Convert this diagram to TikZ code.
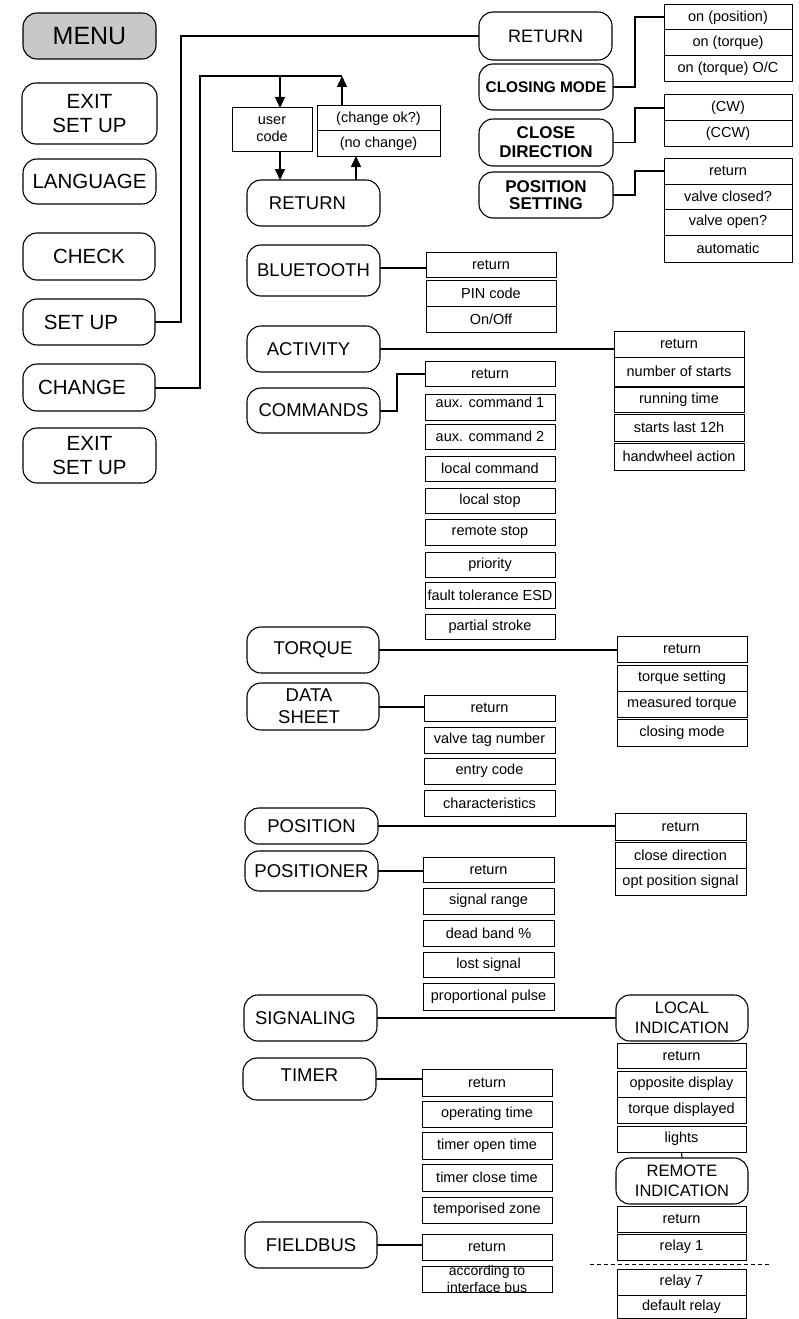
\documentclass[tikz,border=0pt]{standalone}
\usepackage{fontspec}
\setmainfont{Liberation Sans}
\usetikzlibrary{arrows.meta}
\definecolor{menugray}{RGB}{200,200,200}
\newcommand\bx[7]{%
  \pgfmathsetmacro\bxw{#4-#2}\pgfmathsetmacro\bxh{#5-#3}%
  \pgfmathsetmacro\bxcx{(#2+#4)/2}\pgfmathsetmacro\bxcy{(#3+#5)/2}%
  \node[#6,minimum width=\bxw pt,minimum height=\bxh pt] (#1) at (\bxcx,\bxcy) {#7};}
\tikzset{
  rbox/.style={draw, rounded corners=14pt, line width=1.1pt, inner sep=0pt, outer sep=0pt, align=center},
  sbox/.style={draw, line width=1pt, inner sep=0pt, outer sep=0pt, align=center, font=\fontsize{14.5}{17}\selectfont},
  lfont/.style={font=\fontsize{20.5}{23.3}\selectfont},
  mfont/.style={font=\fontsize{18.5}{21.7}\selectfont},
  conn/.style={line width=2pt},
  thinconn/.style={line width=1.1pt},
  arrw/.style={line width=1.5pt, -{Triangle[length=11pt,width=10pt]}},
}
\begin{document}
\begin{tikzpicture}[x=1pt,y=-1pt]
\fill[white] (0,0) rectangle (798,1319);
\useasboundingbox (0,0) rectangle (798,1319);
% left column
\bx{menu}{23}{13}{156}{59}{rbox,fill=menugray,font=\fontsize{25}{28}\selectfont}{MENU}
\bx{exit1}{22}{83}{157}{144}{rbox,lfont}{EXIT\\SET UP}
\bx{lang}{23}{159}{156}{204}{rbox,lfont}{LANGUAGE}
\bx{check}{23}{233}{155}{280}{rbox,lfont}{CHECK}
\bx{setup}{23}{299}{155}{345}{rbox}{}
\node[lfont] (setupt) at ([xshift=-8pt]setup.center) {SET UP};
\bx{change}{23}{364}{155}{411}{rbox}{}
\node[lfont] (changet) at ([xshift=-7pt]change.center) {CHANGE};
\bx{exit2}{23}{428}{156}{483}{rbox,lfont}{EXIT\\SET UP}
% top right
\bx{ret1}{479}{12}{612}{60}{rbox,font=\fontsize{18}{21}\selectfont}{RETURN}
\bx{closing}{479}{64}{613}{110}{rbox,font=\fontsize{15.4}{18}\bfseries}{CLOSING MODE}
\bx{closedir}{479}{119}{613}{166}{rbox,font=\fontsize{17}{19}\bfseries}{CLOSE\\DIRECTION}
\bx{posset}{479}{172}{613}{218}{rbox,font=\fontsize{17}{17.5}\bfseries}{POSITION\\SETTING}
\bx{onpos}{664}{5}{792}{30}{sbox}{on (position)}
\bx{ontq}{664}{30}{792}{56}{sbox}{on (torque)}
\bx{ontqoc}{664}{56}{792}{82}{sbox}{on (torque) O/C}
\bx{cw}{664}{95}{792}{121}{sbox}{(CW)}
\bx{ccw}{664}{121}{792}{146}{sbox}{(CCW)}
\bx{psret}{664}{158}{792}{184}{sbox}{return}
\bx{vclosed}{664}{184}{792}{209}{sbox}{valve closed?}
\bx{vopen}{664}{209}{792}{235}{sbox}{valve open?}
\bx{autom}{664}{235}{792}{262}{sbox}{automatic}
% user code area
\bx{usercode}{232}{108}{312}{151}{sbox}{user\\code}
\bx{changeok}{317}{106}{440}{131}{sbox}{(change ok?)}
\bx{nochange}{317}{131}{440}{156}{sbox}{(no change)}
\bx{ret2}{247}{180}{380}{226}{rbox}{}
\node[mfont] (ret2t) at ([xshift=-6pt]ret2.center) {RETURN};
% bluetooth
\bx{bt}{247}{245}{380}{296}{rbox,mfont}{BLUETOOTH}
\bx{btret}{426}{252}{556}{277}{sbox}{return}
\bx{pin}{426}{280}{556}{306}{sbox}{PIN code}
\bx{onoff}{426}{306}{556}{332}{sbox}{On/Off}
% activity
\bx{act}{247}{326}{380}{372}{rbox}{}
\node[mfont] (actt) at ([xshift=-5pt]act.center) {ACTIVITY};
\bx{actret}{614}{331}{744}{357}{sbox}{return}
\bx{nstarts}{614}{357}{744}{386}{sbox}{number of starts}
\bx{runtime}{614}{387}{744}{412}{sbox}{running time}
\bx{starts12}{614}{414}{744}{441}{sbox}{starts last 12h}
\bx{hw}{614}{443}{744}{470}{sbox}{handwheel action}
% commands
\bx{cmd}{247}{388}{380}{433}{rbox,mfont}{COMMANDS}
\bx{cmdret}{425}{361}{555}{386}{sbox}{return}
\bx{aux1}{425}{394}{555}{420}{sbox}{}
\node[font=\fontsize{14.5}{17}\selectfont] (aux1t) at ([yshift=5pt]aux1.center) {aux. command 1};
\bx{aux2}{425}{424}{555}{449}{sbox}{aux. command 2}
\bx{localcmd}{425}{456}{555}{481}{sbox}{local command}
\bx{localstop}{425}{488}{555}{513}{sbox}{local stop}
\bx{remstop}{425}{519}{555}{545}{sbox}{remote stop}
\bx{prio}{425}{552}{555}{577}{sbox}{priority}
\bx{fault}{425}{582}{555}{608}{sbox}{fault tolerance ESD}
\bx{partial}{425}{614}{555}{639}{sbox}{partial stroke}
% torque
\bx{tq}{247}{627}{379}{673}{rbox,mfont}{TORQUE}
\bx{tqret}{617}{636}{747}{662}{sbox}{return}
\bx{tqset}{617}{665}{747}{691}{sbox}{torque setting}
\bx{meastq}{617}{691}{747}{717}{sbox}{measured torque}
\bx{closmode}{617}{719}{747}{746}{sbox}{closing mode}
% data sheet
\bx{ds}{247}{683}{379}{730}{rbox}{}
\node[mfont,align=center] (dst) at ([xshift=-4pt]ds.center) {DATA\\SHEET};
\bx{dsret}{424}{695}{555}{721}{sbox}{return}
\bx{vtag}{424}{727}{555}{753}{sbox}{valve tag number}
\bx{entry}{424}{758}{555}{784}{sbox}{entry code}
\bx{charac}{424}{790}{555}{816}{sbox}{characteristics}
% position
\bx{pos}{245}{808}{378}{844}{rbox,mfont}{POSITION}
\bx{posret}{615}{813}{746}{840}{sbox}{return}
\bx{cdir}{615}{842}{746}{868}{sbox}{close direction}
\bx{optpos}{615}{868}{746}{895}{sbox}{opt position signal}
% positioner
\bx{pner}{245}{851}{378}{891}{rbox,mfont}{POSITIONER}
\bx{pnret}{423}{857}{554}{882}{sbox}{return}
\bx{sigrange}{423}{888}{554}{914}{sbox}{signal range}
\bx{deadband}{423}{920}{554}{946}{sbox}{dead band \%}
\bx{lostsig}{423}{952}{554}{977}{sbox}{lost signal}
\bx{proppulse}{423}{983}{554}{1010}{sbox}{proportional pulse}
% signaling
\bx{sig}{244}{995}{377}{1041}{rbox}{}
\node[mfont] (sigt) at ([xshift=-5pt]sig.center) {SIGNALING};
\bx{locind}{616}{995}{748}{1041}{rbox,font=\fontsize{16.5}{20}\selectfont}{LOCAL\\INDICATION}
\bx{liret}{617}{1043}{746}{1068}{sbox}{return}
\bx{oppdisp}{617}{1071}{746}{1097}{sbox}{opposite display}
\bx{tqdisp}{617}{1097}{746}{1123}{sbox}{torque displayed}
\bx{lights}{617}{1126}{746}{1152}{sbox}{lights}
\bx{remind}{616}{1158}{748}{1204}{rbox,font=\fontsize{16.5}{20}\selectfont}{REMOTE\\INDICATION}
\bx{riret}{617}{1206}{746}{1232}{sbox}{return}
\bx{relay1}{617}{1234}{746}{1260}{sbox}{relay 1}
\bx{relay7}{617}{1269}{746}{1295}{sbox}{relay 7}
\bx{defrelay}{617}{1295}{746}{1318}{sbox}{default relay}
% timer
\bx{timer}{243}{1058}{376}{1100}{rbox}{}
\node[mfont] (timert) at ([yshift=4pt]timer.center) {TIMER};
\bx{timret}{422}{1069}{552}{1096}{sbox}{return}
\bx{optime}{422}{1101}{552}{1127}{sbox}{operating time}
\bx{topen}{422}{1132}{552}{1159}{sbox}{timer open time}
\bx{tclose}{422}{1164}{552}{1191}{sbox}{timer close time}
\bx{tempzone}{422}{1197}{552}{1223}{sbox}{temporised zone}
% fieldbus
\bx{fb}{245}{1222}{377}{1268}{rbox,mfont}{FIELDBUS}
\bx{fbret}{422}{1234}{552}{1260}{sbox}{return}
\bx{fbinfo}{422}{1266}{552}{1292}{sbox}{}
\node[align=center,inner sep=0pt,font=\fontsize{14}{17}\selectfont] (fbinfot) at (fbinfo.center) {according to\\interface bus};
% ---------------- connectors
\draw[conn] (setup.east) -| (181,0 |- ret1.west) -- (ret1.west);
\coordinate (topL) at (200,76);
\coordinate (topR) at (342,76);
\draw[conn] (change.east) -| (topL) -- (topR);
\coordinate (ucin) at ([xshift=8pt]usercode.north);
\draw[arrw] (ucin |- topL) -- (ucin);
\coordinate (ucout) at ([xshift=8pt]usercode.south);
\draw[arrw] (ucout) -- (ucout |- ret2.north);
\coordinate (coa) at (topR |- changeok.north);
\draw[arrw] (coa) -- (topR);
\coordinate (r2up) at (356,0 |- ret2.north);
\draw[arrw] (r2up) -- (r2up |- nochange.south);
\draw[conn] (closing.east) -| (635,0 |- onpos.west) -- (onpos.west);
\draw[thinconn] (closedir.east) -| (635,0 |- cw.west) -- (cw.west);
\draw[thinconn] (posset.east) -| (635,0 |- psret.west) -- (psret.west);
\coordinate (bte) at ([yshift=2.5pt]bt.east);
\draw[conn] (bte) -- (bte -| btret.west);
\draw[conn] (act.east) -- (act.east -| actret.west);
\draw[conn] (cmd.east) -| (397,0 |- cmdret.west) -- (cmdret.west);
\draw[conn] (tq.east) -- (tq.east -| tqret.west);
\draw[conn] (ds.east) -- (ds.east -| dsret.west);
\draw[conn] (pos.east) -- (pos.east -| posret.west);
\draw[conn] (pner.east) -- (pner.east -| pnret.west);
\draw[conn] (sig.east) -- (locind.west);
\draw[conn] (timer.east) -- (timer.east -| timret.west);
\draw[conn] (fb.east) -- (fb.east -| fbret.west);
\draw[thinconn] (lights.south) -- (remind.north);
\coordinate (dashL) at (590,1264.5);
\coordinate (dashR) at (771,1264.5);
\draw[line width=0.9pt, dash pattern=on 4pt off 3pt] (dashL) -- (dashR);
\end{tikzpicture}
\end{document}
